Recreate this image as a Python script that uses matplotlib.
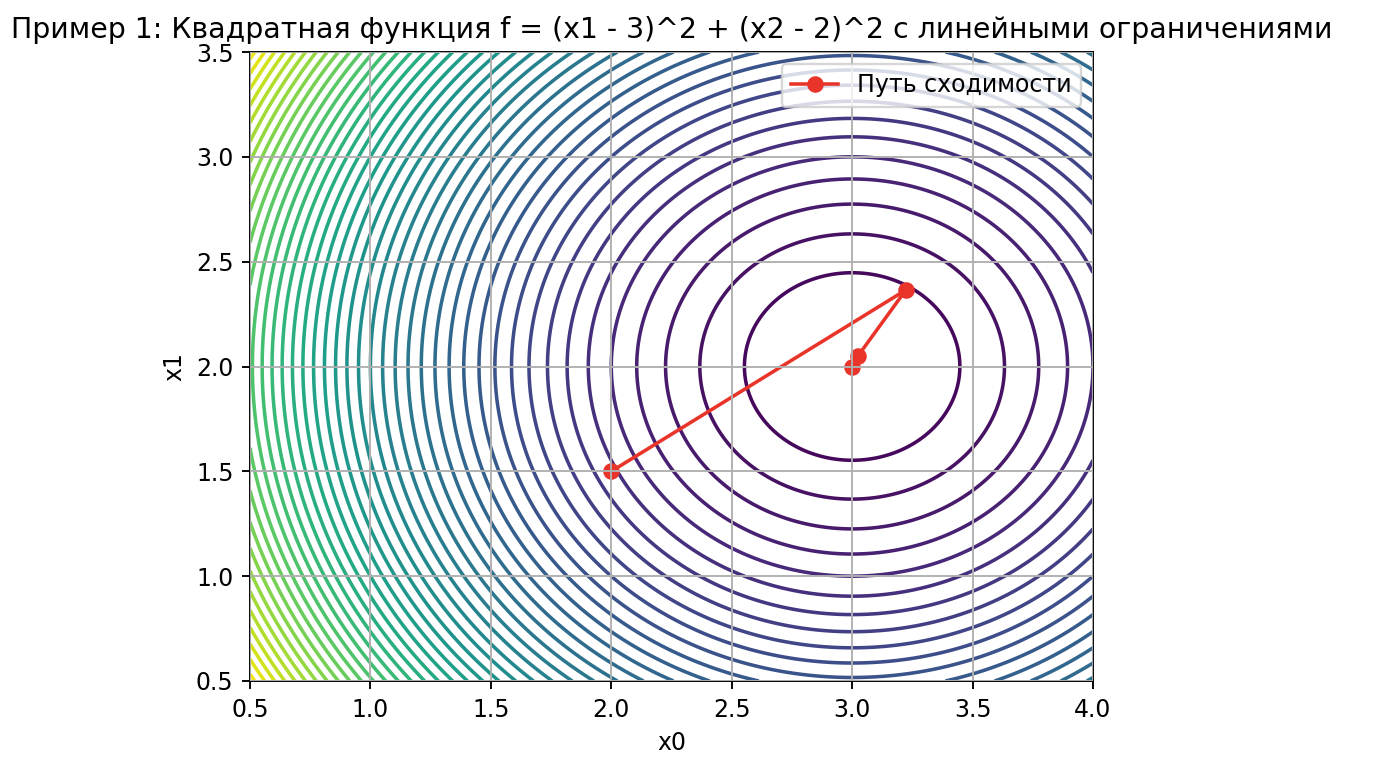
import numpy as np
import matplotlib
matplotlib.use("Agg")
from matplotlib import pyplot as plt

# область и функция
x_range = [0.5, 4.0]
y_range = [0.5, 3.5]
x_c, y_c = 3.0, 2.0

# путь сходимости
path_x = [2.0, 3.223, 3.024, 3.0]
path_y = [1.5, 2.365, 2.05, 2.0]

xs = np.linspace(x_range[0], x_range[1], 400)
ys = np.linspace(y_range[0], y_range[1], 400)
X, Y = np.meshgrid(xs, ys)
Z = (X - x_c)**2 + (Y - y_c)**2

dpi = 170
fig = plt.figure(figsize=(1394 / dpi, 766 / dpi), dpi=dpi)
ax = fig.add_axes([250 / 1394, 85 / 766, 843 / 1394, 629 / 766])

ax.contour(X, Y, Z, levels=50, cmap="viridis")
ax.plot(path_x, path_y, "o-", color="#e9342a", label="Путь сходимости")

ax.set_axisbelow(False)
ax.grid(True)
ax.set_xlim(x_range)
ax.set_ylim(y_range)
ax.set_xlabel("x0")
ax.set_ylabel("x1")
ax.set_title("Пример 1: Квадратная функция f = (x1 - 3)^2 + (x2 - 2)^2 с линейными ограничениями")
ax.legend(loc="upper right")

fig.savefig("out.png", dpi=dpi)
